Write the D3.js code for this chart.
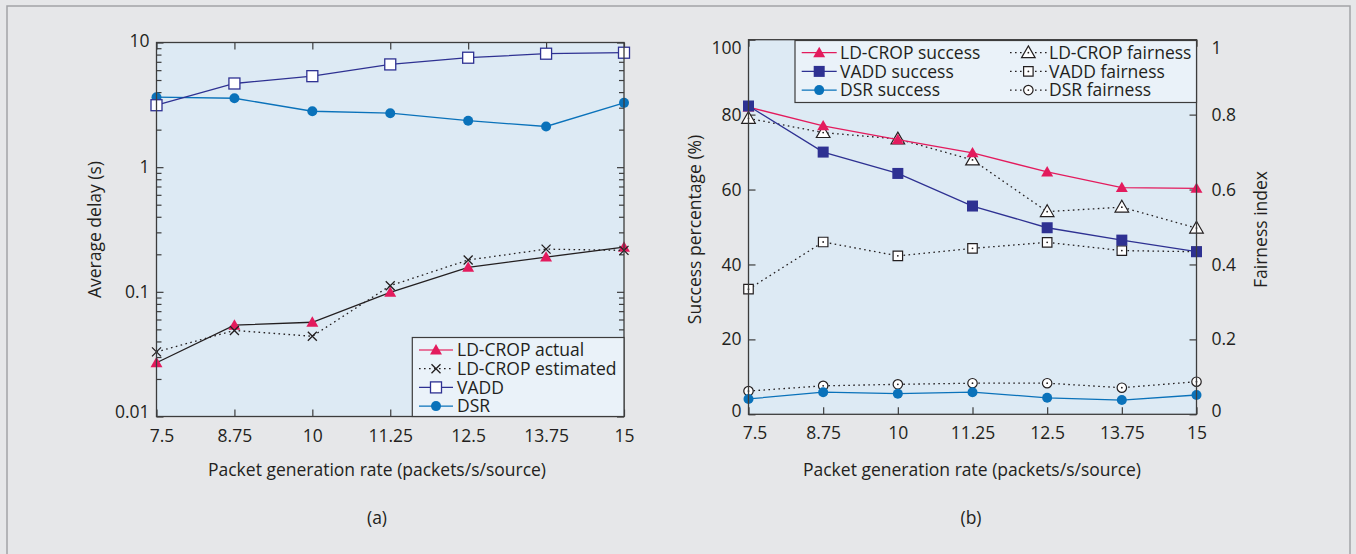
<!DOCTYPE html>
<html>
<head>
<meta charset="utf-8">
<script src="https://cdn.jsdelivr.net/npm/d3@7"></script>
<style>
  body { margin: 0; background: #e6e7e9; }
  svg text { font-family: "Open Sans", sans-serif; fill: #231f20; }
</style>
</head>
<body>
<svg id="chart" width="1356" height="554"></svg>
<script>
// x values shared by both panels
var rates = [7.5, 8.75, 10, 11.25, 12.5, 13.75, 15];

// (a) average delay, seconds
var delayActual    = [0.027, 0.054, 0.057, 0.099, 0.157, 0.19, 0.228];
var delayEstimated = [0.033, 0.049, 0.044, 0.112, 0.18, 0.22, 0.215];
var delayVadd      = [3.14, 4.69, 5.37, 6.67, 7.55, 8.13, 8.28];
var delayDsr       = [3.64, 3.57, 2.81, 2.71, 2.36, 2.12, 3.28];

// (b) success percentage and fairness index
var successLdcrop = [82, 77, 73.3, 69.8, 64.7, 60.5, 60.3];
var successVadd   = [82.3, 70, 64.3, 55.6, 49.8, 46.5, 43.4];
var successDsr    = [4.1, 5.9, 5.5, 5.9, 4.4, 3.8, 5.15];
var fairLdcrop    = [0.79, 0.752, 0.735, 0.679, 0.541, 0.553, 0.497];
var fairVadd      = [0.334, 0.46, 0.423, 0.443, 0.459, 0.437, 0.434];
var fairDsr       = [0.062, 0.076, 0.08, 0.083, 0.083, 0.071, 0.087];

// tick labels
var delayTicks = [0.01, 0.1, 1, 10];
var successTicks = [0, 20, 40, 60, 80, 100];
var fairTicks = [0, 0.2, 0.4, 0.6, 0.8, 1];

var red = "#e31b5d", navy = "#2e3192", blue = "#0a72ba", ink = "#231f20";
var fs = 17.5;

var svg = d3.select("#chart");

// outer frame
svg.append("rect")
    .attr("x", 7).attr("y", 6).attr("width", 1343).attr("height", 560)
    .attr("fill", "none").attr("stroke", "#a2a4a7").attr("stroke-width", 1.5);

// set the ranges
var xa = d3.scaleLinear().domain([7.5, 15]).range([156.5, 624]);
var ya = d3.scaleLog().domain([0.01, 10]).range([416.5, 42.5]);
var xb = d3.scaleLinear().domain([7.5, 15]).range([748.5, 1196.5]);
var yb = d3.scaleLinear().domain([0, 100]).range([414.3, 39.7]);
var yf = d3.scaleLinear().domain([0, 1]).range([414.3, 39.7]);

function pairs(xs, ys) { return xs.map(function(x, i) { return [x, ys[i]]; }); }

// marker shapes
function marker(g, kind, x, y, color) {
    if (kind == "tri") {
        g.append("path").attr("transform", "translate(" + x + "," + (y + 1) + ")")
            .attr("d", d3.symbol(d3.symbolTriangle, 62)()).attr("fill", color);
    } else if (kind == "sq") {
        g.append("rect").attr("x", x - 5.5).attr("y", y - 5.5).attr("width", 11).attr("height", 11)
            .attr("fill", color);
    } else if (kind == "dot") {
        g.append("circle").attr("cx", x).attr("cy", y).attr("r", 5).attr("fill", color);
    } else if (kind == "opensq") {
        g.append("rect").attr("x", x - 5.5).attr("y", y - 5.5).attr("width", 11).attr("height", 11)
            .attr("fill", "#fff").attr("stroke", color).attr("stroke-width", 1.3);
    } else if (kind == "x") {
        g.append("path").attr("d", "M" + (x - 4.5) + "," + (y - 4.5) + "L" + (x + 4.5) + "," + (y + 4.5) +
            "M" + (x - 4.5) + "," + (y + 4.5) + "L" + (x + 4.5) + "," + (y - 4.5))
            .attr("stroke", color).attr("stroke-width", 1.3);
    } else if (kind == "otri" || kind == "osq" || kind == "ocirc") {
        var sym = kind == "otri" ? d3.symbolTriangle : (kind == "osq" ? d3.symbolSquare : d3.symbolCircle);
        var size = kind == "otri" ? 80 : (kind == "osq" ? 90 : 70);
        g.append("path").attr("transform", "translate(" + x + "," + (y + (kind == "otri" ? 1 : 0)) + ")")
            .attr("d", d3.symbol(sym, size)()).attr("fill", "#fff").attr("stroke", color).attr("stroke-width", 1.2);
        g.append("circle").attr("cx", x).attr("cy", y).attr("r", 0.9).attr("fill", color);
    }
}

function series(g, x, y, xs, ys, color, dash, kind, mcolor) {
    var line = d3.line().x(function(d) { return x(d[0]); }).y(function(d) { return y(d[1]); });
    g.append("path").datum(pairs(xs, ys))
        .attr("d", line).attr("fill", "none").attr("stroke", color).attr("stroke-width", 1.3)
        .attr("stroke-dasharray", dash ? "1.6,3.4" : null);
    xs.forEach(function(v, i) { marker(g, kind, x(v), y(ys[i]), mcolor || color); });
}

function frame(x, y, fill) {
    var r = x.range(), h = y.range();
    svg.append("rect").attr("x", r[0]).attr("y", h[1]).attr("width", r[1] - r[0]).attr("height", h[0] - h[1])
        .attr("fill", fill);
}

function border(x, y) {
    var r = x.range(), h = y.range();
    svg.append("rect").attr("x", r[0]).attr("y", h[1]).attr("width", r[1] - r[0]).attr("height", h[0] - h[1])
        .attr("fill", "none").attr("stroke", "#3c3c3c").attr("stroke-width", 1.3);
}

function styleAxis(g) {
    g.select(".domain").remove();
    g.selectAll("line").attr("stroke", "#3c3c3c").attr("stroke-width", 1.2);
    g.selectAll("text").attr("font-size", fs).attr("fill", ink).attr("font-family", "Open Sans, sans-serif");
}

// ---------------- panel (a)
frame(xa, ya, "#ddeaf4");

var minor = [];
[0.01, 0.1, 1].forEach(function(d) { for (var k = 2; k <= 9; k++) minor.push(d * k); });

svg.append("g").attr("transform", "translate(0," + ya.range()[0] + ")")
    .call(d3.axisBottom(xa).tickValues(rates).tickFormat(function(d) { return d; }).tickSize(-7).tickPadding(13))
    .call(styleAxis)
    .selectAll("text").filter(function(d) { return d == 7.5; }).attr("dx", 5);
svg.append("g").attr("transform", "translate(0," + ya.range()[1] + ")")
    .call(d3.axisTop(xa).tickValues(rates).tickFormat("").tickSize(-7)).call(styleAxis);

var ayl = svg.append("g").attr("transform", "translate(" + xa.range()[0] + ",0)")
    .call(d3.axisLeft(ya).tickValues(delayTicks).tickFormat(function(d) { return d; }).tickSize(-7).tickPadding(7))
    .call(styleAxis);
ayl.selectAll("text").filter(function(d) { return d == 0.01; }).attr("dy", "0.05em");
ayl.selectAll("text").filter(function(d) { return d == 10; }).attr("dy", "0.25em");
svg.append("g").attr("transform", "translate(" + xa.range()[0] + ",0)")
    .call(d3.axisLeft(ya).tickValues(minor).tickFormat("").tickSize(-5)).call(styleAxis);
svg.append("g").attr("transform", "translate(" + xa.range()[1] + ",0)")
    .call(d3.axisRight(ya).tickValues(delayTicks).tickFormat("").tickSize(-7)).call(styleAxis);
svg.append("g").attr("transform", "translate(" + xa.range()[1] + ",0)")
    .call(d3.axisRight(ya).tickValues(minor).tickFormat("").tickSize(-5)).call(styleAxis);

var ga = svg.append("g");
series(ga, xa, ya, rates, delayDsr, blue, false, "dot");
series(ga, xa, ya, rates, delayVadd, navy, false, "opensq");
series(ga, xa, ya, rates, delayActual, ink, false, "tri", red);
series(ga, xa, ya, rates, delayEstimated, ink, true, "x");
border(xa, ya);

// legend (a)
var la = svg.append("g");
la.append("rect").attr("x", 412.3).attr("y", 337.5).attr("width", 211.7).attr("height", 79)
    .attr("fill", "#eaf2f9").attr("stroke", "#3c3c3c").attr("stroke-width", 1.2);
var legA = [
    {name: "LD-CROP actual", color: "#e64b7d", mcolor: red, kind: "tri", dash: false},
    {name: "LD-CROP estimated", color: ink, kind: "x", dash: true},
    {name: "VADD", color: navy, kind: "opensq", dash: false},
    {name: "DSR", color: blue, kind: "dot", dash: false}
];
legA.forEach(function(d, i) {
    var y = 350 + i * 18.7;
    la.append("line").attr("x1", 419).attr("x2", 453).attr("y1", y).attr("y2", y)
        .attr("stroke", d.color).attr("stroke-width", 1.3).attr("stroke-dasharray", d.dash ? "1.6,3.4" : null);
    marker(la, d.kind, 436, y, d.mcolor || d.color);
    la.append("text").attr("x", 457).attr("y", y).attr("dy", "0.35em").attr("font-size", fs).text(d.name);
});

svg.append("text").attr("transform", "translate(95,229.5) rotate(-90)").attr("text-anchor", "middle")
    .attr("dy", "0.35em").attr("font-size", fs).text("Average delay (s)");
svg.append("text").attr("x", 377).attr("y", 470).attr("text-anchor", "middle").attr("dy", "0.35em")
    .attr("font-size", fs).text("Packet generation rate (packets/s/source)");
svg.append("text").attr("x", 377).attr("y", 518).attr("text-anchor", "middle").attr("dy", "0.35em")
    .attr("font-size", fs).text("(a)");

// ---------------- panel (b)
frame(xb, yb, "#ddeaf4");

svg.append("g").attr("transform", "translate(0," + yb.range()[0] + ")")
    .call(d3.axisBottom(xb).tickValues(rates).tickFormat(function(d) { return d; }).tickSize(-7).tickPadding(12))
    .call(styleAxis)
    .selectAll("text").filter(function(d) { return d == 7.5; }).attr("dx", 6);
svg.append("g").attr("transform", "translate(0," + yb.range()[1] + ")")
    .call(d3.axisTop(xb).tickValues(rates).tickFormat("").tickSize(-7)).call(styleAxis);

var byl = svg.append("g").attr("transform", "translate(" + xb.range()[0] + ",0)")
    .call(d3.axisLeft(yb).tickValues(successTicks).tickFormat(function(d) { return d; }).tickSize(-7).tickPadding(7))
    .call(styleAxis);
byl.selectAll("text").filter(function(d) { return d == 100; }).attr("dy", "0.8em");
byl.selectAll("text").filter(function(d) { return d == 0; }).attr("dy", "0.12em");

var byr = svg.append("g").attr("transform", "translate(" + xb.range()[1] + ",0)")
    .call(d3.axisRight(yf).tickValues(fairTicks).tickFormat(function(d) { return d; }).tickSize(-7).tickPadding(15))
    .call(styleAxis);
byr.selectAll("text").filter(function(d) { return d == 1; }).attr("dy", "0.8em");
byr.selectAll("text").filter(function(d) { return d == 0; }).attr("dy", "0.12em");

var gb = svg.append("g");
series(gb, xb, yf, rates, fairDsr, ink, true, "ocirc");
series(gb, xb, yf, rates, fairVadd, ink, true, "osq");
series(gb, xb, yf, rates, fairLdcrop, ink, true, "otri");
series(gb, xb, yb, rates, successDsr, blue, false, "dot");
series(gb, xb, yb, rates, successLdcrop, red, false, "tri");
series(gb, xb, yb, rates, successVadd, navy, false, "sq");
border(xb, yb);

// legend (b)
var lb = svg.append("g");
lb.append("rect").attr("x", 795).attr("y", 40.5).attr("width", 401.5).attr("height", 62)
    .attr("fill", "#eaf2f9").attr("stroke", "#3c3c3c").attr("stroke-width", 1.2);
var legB = [
    {name: "LD-CROP success", color: red, kind: "tri", dash: false, col: 0},
    {name: "VADD success", color: navy, kind: "sq", dash: false, col: 0},
    {name: "DSR success", color: blue, kind: "dot", dash: false, col: 0},
    {name: "LD-CROP fairness", color: ink, kind: "otri", dash: true, col: 1},
    {name: "VADD fairness", color: ink, kind: "osq", dash: true, col: 1},
    {name: "DSR fairness", color: ink, kind: "ocirc", dash: true, col: 1}
];
legB.forEach(function(d, i) {
    var y = 52.7 + (i % 3) * 18.7;
    var x0 = d.col ? 1010 : 801.7, x1 = d.col ? 1046.7 : 836.7;
    lb.append("line").attr("x1", x0).attr("x2", x1).attr("y1", y).attr("y2", y)
        .attr("stroke", d.color).attr("stroke-width", 1.3).attr("stroke-dasharray", d.dash ? "1.6,3.4" : null);
    marker(lb, d.kind, (x0 + x1) / 2, y, d.color);
    lb.append("text").attr("x", d.col ? 1049 : 840).attr("y", y).attr("dy", "0.35em").attr("font-size", fs).text(d.name);
});

svg.append("text").attr("transform", "translate(695,229.5) rotate(-90)").attr("text-anchor", "middle")
    .attr("dy", "0.35em").attr("font-size", fs).text("Success percentage (%)");
svg.append("text").attr("transform", "translate(1261,229.5) rotate(-90)").attr("text-anchor", "middle")
    .attr("dy", "0.35em").attr("font-size", fs).text("Fairness index");
svg.append("text").attr("x", 972).attr("y", 470).attr("text-anchor", "middle").attr("dy", "0.35em")
    .attr("font-size", fs).text("Packet generation rate (packets/s/source)");
svg.append("text").attr("x", 971).attr("y", 518).attr("text-anchor", "middle").attr("dy", "0.35em")
    .attr("font-size", fs).text("(b)");
</script>
</body>
</html>
